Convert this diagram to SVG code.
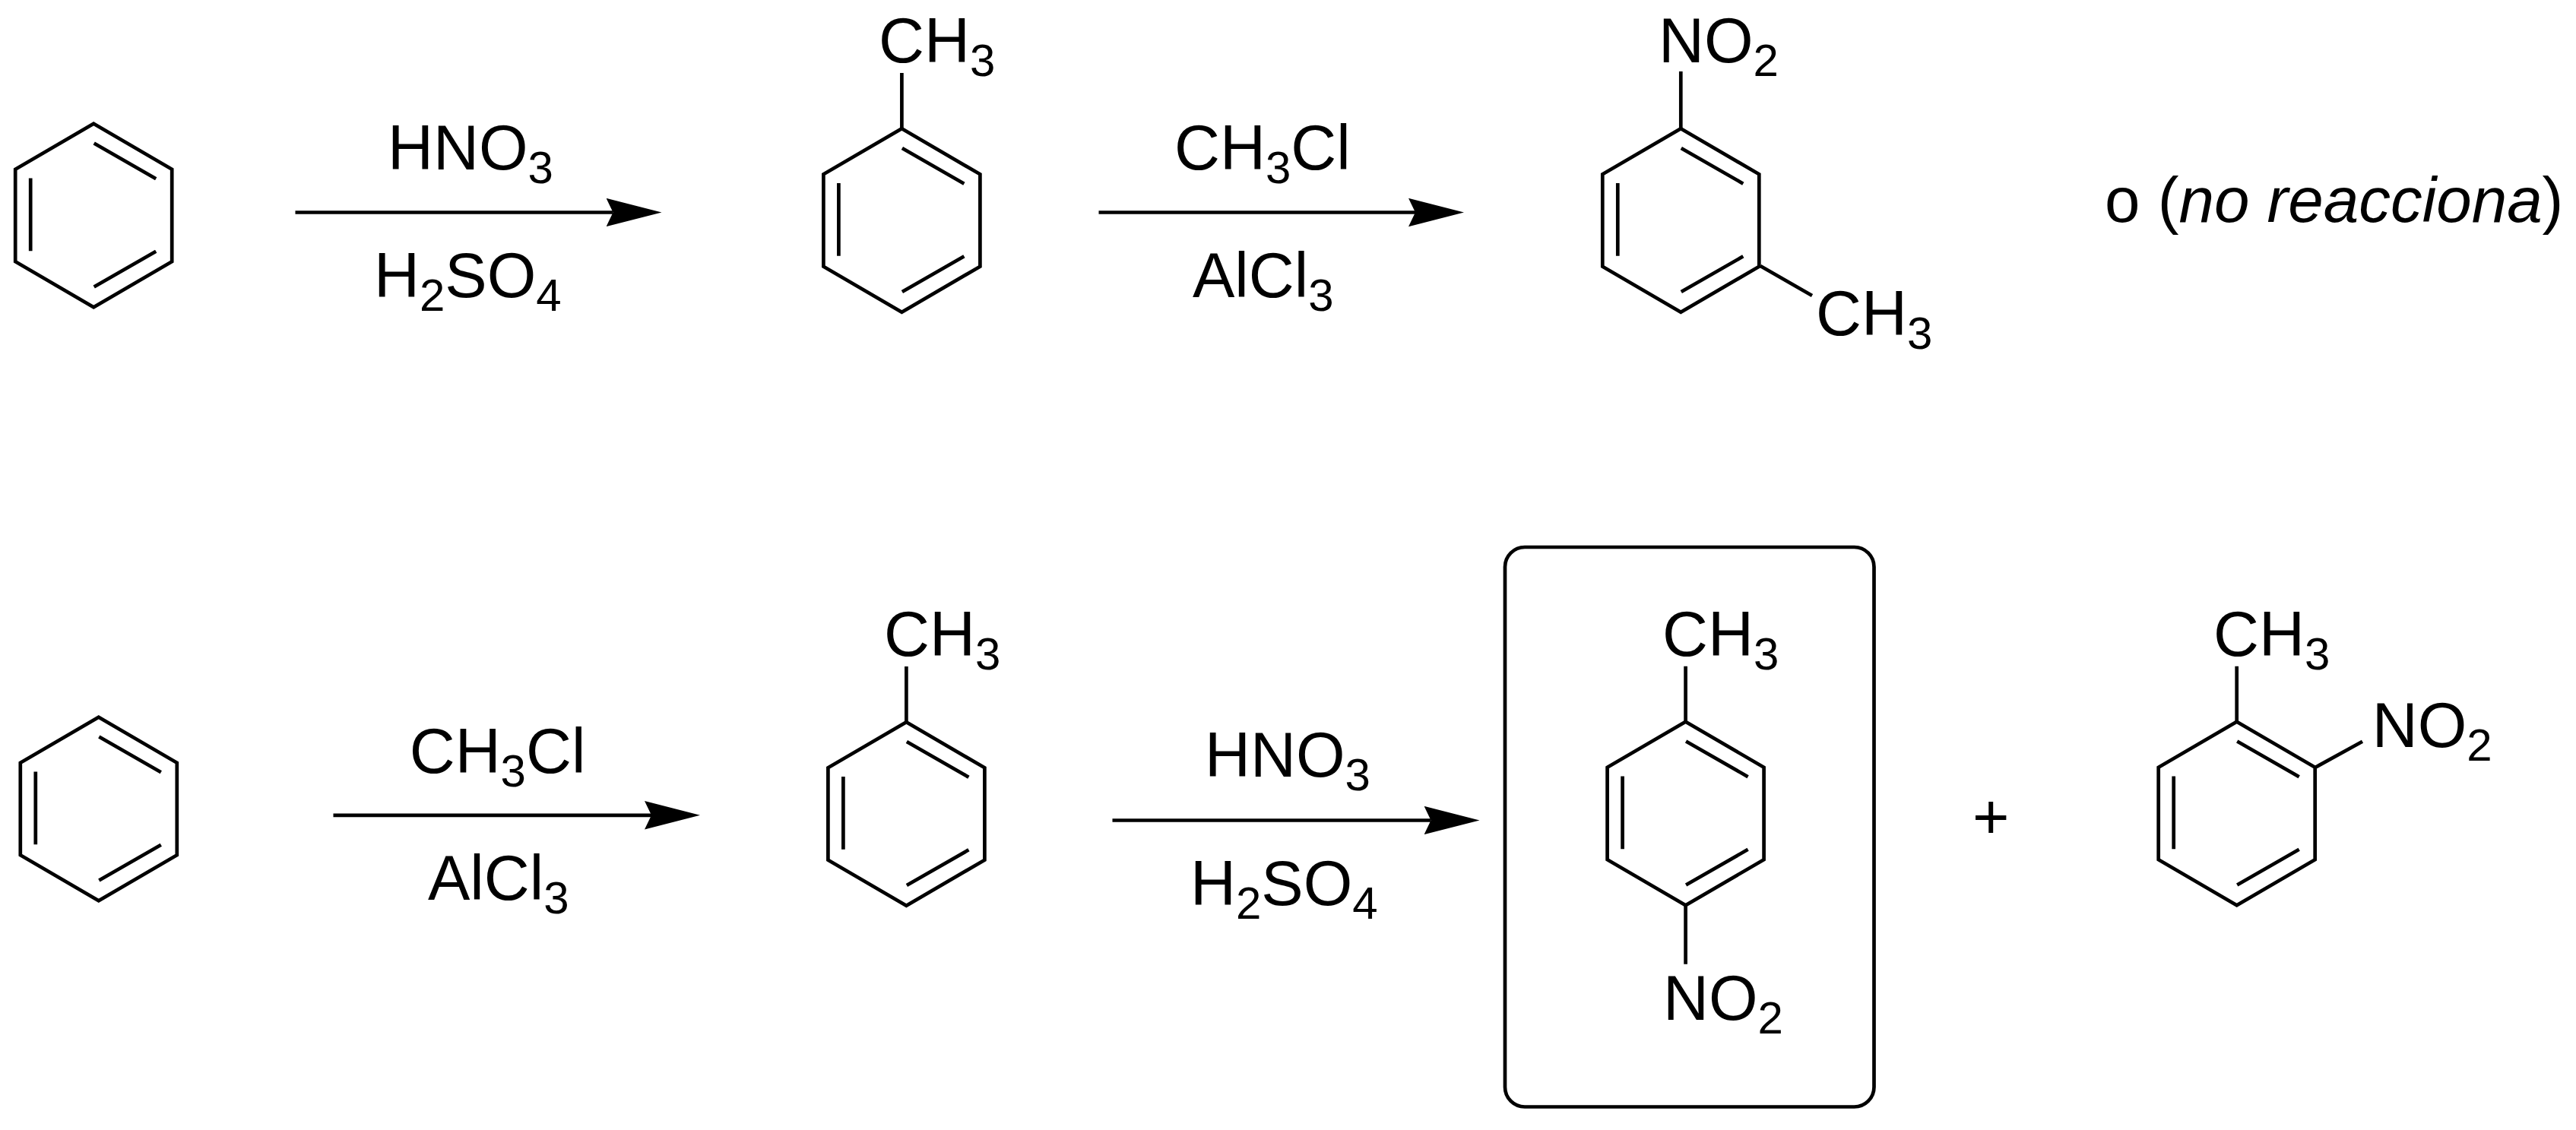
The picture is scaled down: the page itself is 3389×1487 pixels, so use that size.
<svg xmlns="http://www.w3.org/2000/svg" width="3389" height="1487" viewBox="0 0 3389 1487">
<style>
text{font-family:"Liberation Sans",Arial,sans-serif;font-size:83px;fill:#000}
.s{font-size:60px}
.b,.r{fill:none;stroke:#000;stroke-width:4.7;stroke-linejoin:miter}
.a{fill:none;stroke:#000;stroke-width:4.7}
.box{fill:none;stroke:#000;stroke-width:4.7}
</style>
<defs>
<path id="ring" class="r" d="M0,-120.7L103,-60.7V60.7L0,120.7L-103,60.7V-60.7ZM0.5,-95L82,-48.3M-83,-49V46.7M82,47.3L0.5,94"/>
<marker id="head" markerUnits="userSpaceOnUse" markerWidth="73" markerHeight="38" refX="9" refY="19" orient="auto"><path d="M0,0.3L73,19L0,37.7L9,19Z" fill="#000"/></marker>
</defs>
<rect width="3389" height="1487" fill="#fff"/>
<g id="connectors">
<line class="a" x1="388.5" y1="279.5" x2="806.5" y2="279.5" marker-end="url(#head)"/>
<line class="a" x1="1445.5" y1="279.5" x2="1862" y2="279.5" marker-end="url(#head)"/>
<line class="a" x1="438.5" y1="1072.8" x2="857" y2="1072.8" marker-end="url(#head)"/>
<line class="a" x1="1463.5" y1="1079.5" x2="1882.5" y2="1079.5" marker-end="url(#head)"/>
</g>
<g id="benzene-1"><use href="#ring" x="123.2" y="283.5"/></g>
<g id="reagents-1"><text x="510" y="222.5">HNO<tspan class="s" dy="18">3</tspan></text>
<text x="492" y="390.5">H<tspan class="s" dy="18">2</tspan><tspan dy="-18">SO</tspan><tspan class="s" dy="18">4</tspan></text></g>
<g id="toluene-1"><use href="#ring" x="1186.4" y="290"/><path class="b" d="M1186.4,96V169"/><text x="1156" y="81.7">CH<tspan class="s" dy="18">3</tspan></text></g>
<g id="reagents-2"><text x="1545" y="222.5">CH<tspan class="s" dy="18">3</tspan><tspan dy="-18">Cl</tspan></text>
<text x="1569" y="390.5">AlCl<tspan class="s" dy="18">3</tspan></text></g>
<g id="meta-product"><use href="#ring" x="2211.3" y="290"/><path class="b" d="M2211.3,94V169M2316,350L2384,389"/><text x="2182" y="81.7">NO<tspan class="s" dy="18">2</tspan></text><text x="2389" y="440.7">CH<tspan class="s" dy="18">3</tspan></text></g>
<g id="note"><text x="2769" y="291.7" style="font-size:83.5px">o (<tspan font-style="italic">no reacciona</tspan>)</text></g>
<g id="benzene-2"><use href="#ring" x="129.8" y="1064.5"/></g>
<g id="reagents-3"><text x="538.7" y="1016.7">CH<tspan class="s" dy="18">3</tspan><tspan dy="-18">Cl</tspan></text>
<text x="563" y="1184.3">AlCl<tspan class="s" dy="18">3</tspan></text></g>
<g id="toluene-2"><use href="#ring" x="1192.4" y="1071"/><path class="b" d="M1192.4,877V950"/><text x="1163" y="862.7">CH<tspan class="s" dy="18">3</tspan></text></g>
<g id="reagents-4"><text x="1585" y="1022.3">HNO<tspan class="s" dy="18">3</tspan></text>
<text x="1566" y="1190.7">H<tspan class="s" dy="18">2</tspan><tspan dy="-18">SO</tspan><tspan class="s" dy="18">4</tspan></text></g>
<g id="para-product"><rect class="box" x="1980" y="720" width="485.5" height="736.5" rx="26"/><use href="#ring" x="2217.6" y="1070.5"/><path class="b" d="M2217.6,876.7V950.5M2217.6,1190.5V1268.7"/><text x="2187" y="862.7">CH<tspan class="s" dy="18">3</tspan></text><text x="2188" y="1341.7">NO<tspan class="s" dy="18">2</tspan></text></g>
<g id="plus"><text x="2595" y="1103">+</text></g>
<g id="ortho-product"><use href="#ring" x="2942.7" y="1070.5"/><path class="b" d="M2942.7,876.7V950.5M3045.7,1010L3108,975.7"/><text x="2912" y="862.7">CH<tspan class="s" dy="18">3</tspan></text><text x="3120.7" y="982.7">NO<tspan class="s" dy="18">2</tspan></text></g>
</svg>
